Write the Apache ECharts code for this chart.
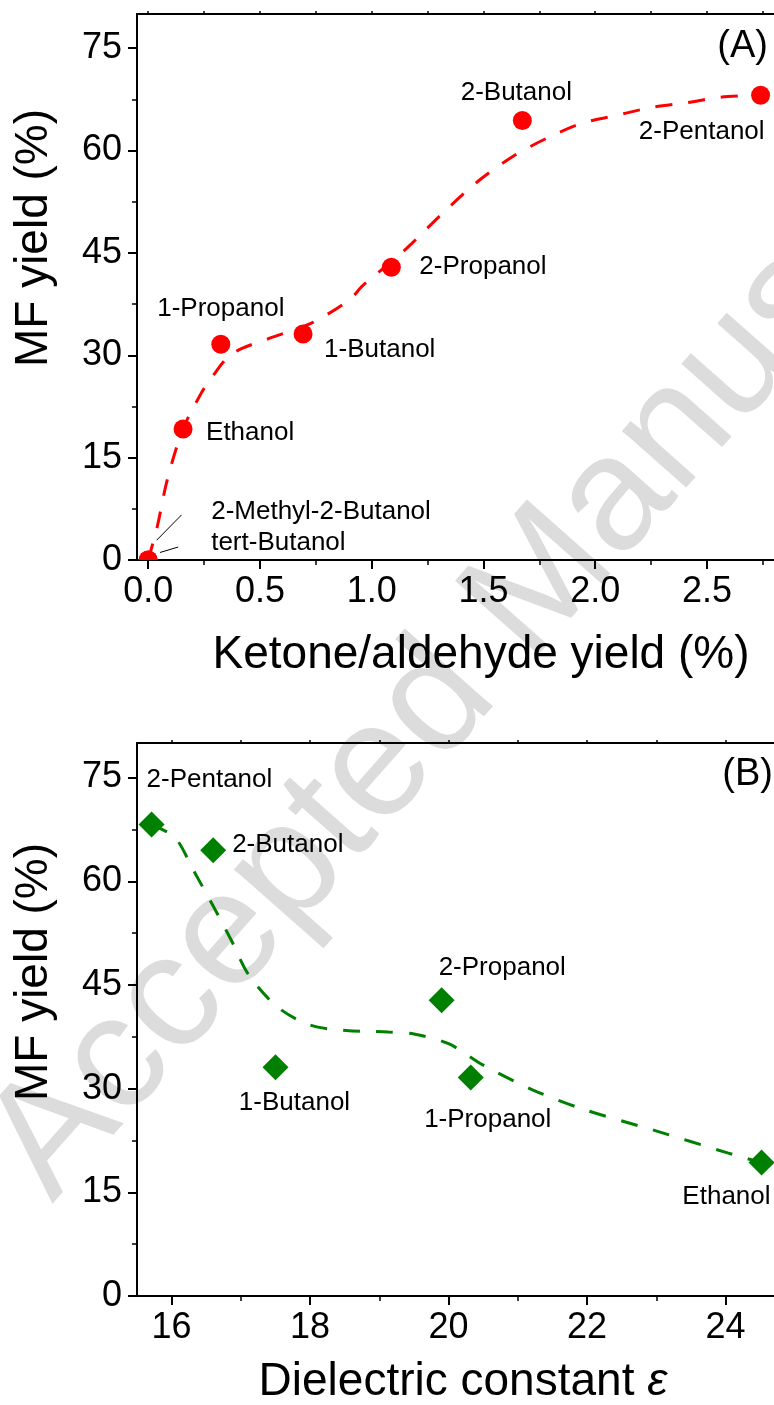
<!DOCTYPE html>
<html>
<head>
<meta charset="utf-8">
<script src="https://cdn.jsdelivr.net/npm/echarts@6/dist/echarts.min.js"></script>
<style>
html,body{margin:0;padding:0;background:#fff;}
#c{width:774px;height:1405px;}
</style>
</head>
<body>
<div id="c"></div>
<script>
// ---------- Panel A data ----------
const namesA = ['2-Methyl-2-Butanol', 'tert-Butanol', 'Ethanol', '1-Propanol', '1-Butanol', '2-Propanol', '2-Butanol', '2-Pentanol'];
const ketoneYieldA = [0, 0, 0.156, 0.325, 0.693, 1.088, 1.674, 2.74];
const mfYieldA = [0, 0, 19.2, 31.6, 33.1, 42.9, 64.4, 68.1];
// dashed guide curve
const curveAx = [0, 0.04, 0.085, 0.156, 0.24, 0.286, 0.353, 0.42, 0.58, 0.73, 0.90, 0.96, 1.11, 1.18, 1.33, 1.48, 1.64, 1.79, 1.94, 2.09, 2.25, 2.41, 2.56, 2.74];
const curveAy = [0, 4.8, 11.7, 19.2, 24.6, 26.8, 29.6, 31.0, 32.9, 34.7, 38.1, 40.2, 44.3, 46.4, 51.2, 55.6, 59.3, 61.9, 64.0, 65.1, 66.3, 67.0, 67.8, 68.1];
// leader lines for the two overlapping points at origin
const leader1 = [[0.038, 2.9], [0.149, 6.6]];
const leader2 = [[0.053, 1.1], [0.134, 1.9]];
const xTicksA = [0, 0.5, 1.0, 1.5, 2.0, 2.5];
const xMinorA = [0.25, 0.75, 1.25, 1.75, 2.25, 2.75];

// ---------- Panel B data ----------
const namesB = ['2-Pentanol', '2-Butanol', '1-Butanol', '2-Propanol', '1-Propanol', 'Ethanol'];
const dielectricB = [15.71, 16.6, 17.5, 19.9, 20.32, 24.52];
const mfYieldB = [68.2, 64.5, 33.1, 42.8, 31.6, 19.3];
const curveBx = [15.71, 16.05, 16.32, 16.59, 16.86, 17.11, 17.53, 18.0, 18.52, 19.13, 19.5, 20.0, 20.5, 21.22, 21.98, 22.96, 24.03, 24.52];
const curveBy = [68.2, 66.3, 61.5, 56.6, 51.5, 46.5, 41.8, 39.2, 38.4, 38.2, 37.9, 36.5, 33.4, 29.8, 26.9, 24.0, 20.7, 19.3];
const xTicksB = [16, 18, 20, 22, 24];
const xMinorB = [17, 19, 21, 23];

// ---------- shared y ticks ----------
const yTicks = [0, 15, 30, 45, 60, 75];
const yMinor = [7.5, 22.5, 37.5, 52.5, 67.5];

// ---------- label placement (style, not data) ----------
const placeA = [
  {align: 'left', dx: 63, dy: -48},
  {align: 'left', dx: 63, dy: -17},
  {align: 'left', dx: 23, dy: 4},
  {align: 'center', dx: 0, dy: -36},
  {align: 'left', dx: 21, dy: 16},
  {align: 'left', dx: 28, dy: 0},
  {align: 'center', dx: -6, dy: -28},
  {align: 'right', dx: 4, dy: 37}
];
const placeB = [
  {align: 'left', dx: -5, dy: -45},
  {align: 'left', dx: 19, dy: -5},
  {align: 'center', dx: 19, dy: 36},
  {align: 'left', dx: -3, dy: -32},
  {align: 'center', dx: 17, dy: 42},
  {align: 'right', dx: 9, dy: 34}
];

const FONT = '"Liberation Sans", Arial, sans-serif';
const BLACK = '#000';

function xAxesFor(grid, min, max, majors, minors, fmt) {
  const all = majors.concat(minors).sort((a, b) => a - b);
  return [
    {gridIndex: grid, type: 'value', position: 'bottom', min, max, splitLine: {show: false},
     axisLine: {show: true, onZero: false, lineStyle: {color: BLACK, width: 2}},
     axisTick: {show: true, length: 9, customValues: majors, lineStyle: {color: BLACK, width: 2}},
     axisLabel: {show: true, customValues: majors, formatter: fmt, margin: 14, fontSize: 36, fontFamily: FONT, color: BLACK}},
    {gridIndex: grid, type: 'value', position: 'bottom', min, max, splitLine: {show: false},
     axisLine: {show: false, onZero: false},
     axisTick: {show: true, length: 5, customValues: minors, lineStyle: {color: BLACK, width: 1.5}},
     axisLabel: {show: false}},
    {gridIndex: grid, type: 'value', position: 'top', min, max, splitLine: {show: false},
     axisLine: {show: true, onZero: false, lineStyle: {color: BLACK, width: 2}},
     axisTick: {show: true, length: 3, customValues: all, lineStyle: {color: BLACK, width: 1.5}},
     axisLabel: {show: false}}
  ];
}
function yAxesFor(grid) {
  return [
    {gridIndex: grid, type: 'value', position: 'left', min: 0, max: 80, splitLine: {show: false},
     axisLine: {show: true, onZero: false, lineStyle: {color: BLACK, width: 2}},
     axisTick: {show: true, length: 9, customValues: yTicks, lineStyle: {color: BLACK, width: 2}},
     axisLabel: {show: true, customValues: yTicks, margin: 15, fontSize: 36, fontFamily: FONT, color: BLACK}},
    {gridIndex: grid, type: 'value', position: 'left', min: 0, max: 80, splitLine: {show: false},
     axisLine: {show: false, onZero: false},
     axisTick: {show: true, length: 5, customValues: yMinor, lineStyle: {color: BLACK, width: 1.5}},
     axisLabel: {show: false}}
  ];
}

function pointData(names, xs, ys, place) {
  return names.map((n, i) => ({
    name: n,
    value: [xs[i], ys[i]],
    label: {
      show: true, formatter: '{b}', position: 'inside',
      align: place[i].align, verticalAlign: 'middle',
      offset: [place[i].dx, place[i].dy],
      fontSize: 26, fontFamily: FONT, color: BLACK, opacity: 1
    }
  }));
}
function zip(xs, ys) { return xs.map((x, i) => [x, ys[i]]); }

const option = {
  animation: false,
  backgroundColor: '#fff',
  grid: [
    {left: 137, top: 14, width: 639, height: 546},
    {left: 137, top: 743, width: 639, height: 553}
  ],
  xAxis: [].concat(
    xAxesFor(0, -0.05, 2.8, xTicksA, xMinorA, v => v.toFixed(1)),
    xAxesFor(1, 15.5, 24.7, xTicksB, xMinorB, v => String(v))
  ),
  yAxis: [].concat(yAxesFor(0), yAxesFor(1)),
  graphic: {
    elements: [
      {type: 'text', x: 520, y: 608, rotation: 48.5 * Math.PI / 180, z: -10, silent: true,
       style: {text: 'Accepted Manuscript', fontSize: 162, fontFamily: FONT, fill: '#dcdcdc', align: 'center', verticalAlign: 'middle'}},
      {type: 'text', x: 34, y: 238, rotation: Math.PI / 2,
       style: {text: 'MF yield (%)', fontSize: 46, fontFamily: FONT, fill: BLACK, align: 'center', verticalAlign: 'middle'}},
      {type: 'text', x: 34, y: 972, rotation: Math.PI / 2,
       style: {text: 'MF yield (%)', fontSize: 46, fontFamily: FONT, fill: BLACK, align: 'center', verticalAlign: 'middle'}},
      {type: 'text', x: 481, y: 655,
       style: {text: 'Ketone/aldehyde yield (%)', fontSize: 46, fontFamily: FONT, fill: BLACK, align: 'center', verticalAlign: 'middle'}},
      {type: 'text', x: 463, y: 1382,
       style: {text: '{n|Dielectric constant }{i|ε}', fontSize: 46, fontFamily: FONT, fill: BLACK, align: 'center', verticalAlign: 'middle',
               rich: {n: {fontSize: 46, fontFamily: FONT, fill: BLACK}, i: {fontSize: 46, fontFamily: FONT, fontStyle: 'italic', fill: BLACK}}}},
      {type: 'text', x: 768, y: 47,
       style: {text: '(A)', fontSize: 38, fontFamily: FONT, fill: BLACK, align: 'right', verticalAlign: 'middle'}},
      {type: 'text', x: 773, y: 775,
       style: {text: '(B)', fontSize: 38, fontFamily: FONT, fill: BLACK, align: 'right', verticalAlign: 'middle'}}
    ]
  },
  series: [
    {type: 'line', xAxisIndex: 0, yAxisIndex: 0, data: zip(curveAx, curveAy), smooth: 0.3,
     symbol: 'none', z: 3, silent: true,
     lineStyle: {color: '#ff0000', width: 3, type: [17, 16]}},
    {type: 'line', xAxisIndex: 0, yAxisIndex: 0, data: leader1, symbol: 'none', z: 3, silent: true,
     lineStyle: {color: BLACK, width: 1}},
    {type: 'line', xAxisIndex: 0, yAxisIndex: 0, data: leader2, symbol: 'none', z: 3, silent: true,
     lineStyle: {color: BLACK, width: 1}},
    // red circles drawn through the cartesian scale, clipped to the plot area
    {type: 'custom', xAxisIndex: 0, yAxisIndex: 0, clip: true, z: 5, silent: true,
     data: zip(ketoneYieldA, mfYieldA),
     renderItem: function (params, api) {
       const p = api.coord([api.value(0), api.value(1)]);
       const i = params.dataIndex;
       const pl = placeA[i];
       return {
         type: 'group',
         children: [
           {type: 'circle', shape: {cx: p[0], cy: p[1], r: 9.5}, style: {fill: '#ff0000'}},
           {type: 'text', x: p[0] + pl.dx, y: p[1] + pl.dy,
            style: {text: namesA[i], fontSize: 26, fontFamily: FONT, fill: BLACK, align: pl.align, verticalAlign: 'middle'}}
         ]
       };
     }},
    {type: 'line', xAxisIndex: 3, yAxisIndex: 2, data: zip(curveBx, curveBy), smooth: 0.3,
     symbol: 'none', z: 3, silent: true,
     lineStyle: {color: '#008000', width: 3, type: [17, 16]}},
    {type: 'scatter', xAxisIndex: 3, yAxisIndex: 2, symbol: 'diamond', symbolSize: 26, z: 5,
     itemStyle: {color: '#008000', opacity: 1},
     data: pointData(namesB, dielectricB, mfYieldB, placeB)}
  ]
};

const chart = echarts.init(document.getElementById('c'), null, {renderer: 'canvas'});
chart.setOption(option);
</script>
</body>
</html>
